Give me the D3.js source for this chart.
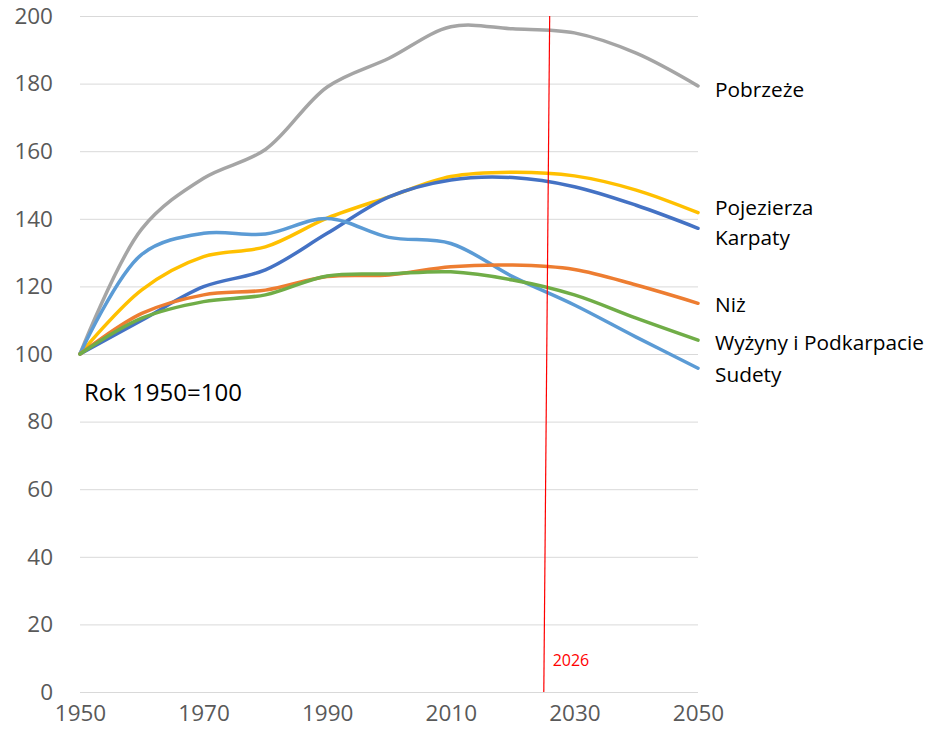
<!DOCTYPE html>
<html><head><meta charset="utf-8">
<script src="https://cdn.jsdelivr.net/npm/d3@7"></script>
<style>body{margin:0;background:#fff}svg{display:block}</style>
</head><body>
<script>
const years = [1950,1960,1970,1980,1990,2000,2010,2020,2030,2040,2050];
const seriesNames = ["Pobrzeże","Pojezierza","Karpaty","Sudety","Niż","Wyżyny i Podkarpacie"];
const pobrzeze   = [100,137,152,160.5,179,187.5,196.8,196.2,195,189,179.3];
const pojezierza = [100,119,128.8,131.7,140.2,146.5,152.5,153.8,152.7,148.5,141.8];
const karpaty    = [100,110,119.9,124.9,135.7,146.5,151.5,152.2,149.5,144,137.2];
const sudety     = [100,129.5,135.7,135.5,140.1,134.5,132.7,122.9,114.5,105,95.8];
const niz        = [100,112,117.5,118.9,122.9,123.4,125.8,126.3,125,120.4,115];
const wyzyny     = [100,110.6,115.5,117.5,123.1,123.7,124.3,121.9,117.5,110.6,104.1];
const seriesValues = [pobrzeze,pojezierza,karpaty,sudety,niz,wyzyny];
const seriesColors = ["#a5a5a5","#ffc000","#4472c4","#5b9bd5","#ed7d31","#70ad47"];
const legendLabels = ["Pobrzeże","Pojezierza","Karpaty","Niż","Wyżyny i Podkarpacie","Sudety"];
const legendY = [90,208,238,305,343,375];
const xTicks = [1950,1970,1990,2010,2030,2050];
const yTicks = [0,20,40,60,80,100,120,140,160,180,200];
const markerLine = [{year:2026,v:200},{year:2025.05,v:0}];
const markerLabel = "2026";
const noteText = "Rok 1950=100";

const W=932,H=736;
const svg=d3.select("body").append("svg").attr("width",W).attr("height",H);
const x=d3.scaleLinear().domain([1950,2050]).range([80,698]);
const y=d3.scaleLinear().domain([0,200]).range([692,16]);
const font="'Open Sans', sans-serif";

// gridlines
const yAxis=d3.axisLeft(y).tickValues(yTicks).tickSize(-(698-80)).tickPadding(27);
const gy=svg.append("g").attr("transform","translate(80,0)").call(yAxis);
gy.select(".domain").remove();
gy.selectAll(".tick line").attr("stroke","#d9d9d9").attr("stroke-width",1);
gy.selectAll(".tick text").attr("fill","#595959").attr("font-size",22.5).attr("font-family",font);

const xAxis=d3.axisBottom(x).tickValues(xTicks).tickFormat(d3.format("d")).tickSize(0).tickPadding(13);
const gx=svg.append("g").attr("transform","translate(0,692)").call(xAxis);
gx.select(".domain").remove();
gx.selectAll(".tick text").attr("fill","#595959").attr("font-size",22.5).attr("font-family",font);

// series
const line=d3.line().x((d,i)=>x(years[i])).y(d=>y(d)).curve(d3.curveCatmullRom.alpha(0.5));
seriesValues.forEach((vals,k)=>{
  svg.append("path").datum(vals).attr("d",line).attr("fill","none")
    .attr("stroke",seriesColors[k]).attr("stroke-width",3.5).attr("stroke-linecap","round");
});

// marker line
svg.append("line")
  .attr("x1",x(markerLine[0].year)).attr("y1",y(markerLine[0].v))
  .attr("x2",x(markerLine[1].year)).attr("y2",y(markerLine[1].v))
  .attr("stroke","#ff0000").attr("stroke-width",1.2);
svg.append("text").attr("x",x(2026)+3).attr("y",666).text(markerLabel)
  .attr("fill","#ff0000").attr("font-size",16).attr("font-family",font);

// legend labels
legendLabels.forEach((t,i)=>{
  svg.append("text").attr("x",715).attr("y",legendY[i]).attr("dy","0.35em").text(t)
    .attr("fill","#000").attr("font-size",20.8).attr("font-family",font);
});

svg.append("text").attr("x",84).attr("y",393).attr("dy","0.35em").text(noteText)
  .attr("fill","#000").attr("font-size",24).attr("font-family",font);
</script>
</body></html>
